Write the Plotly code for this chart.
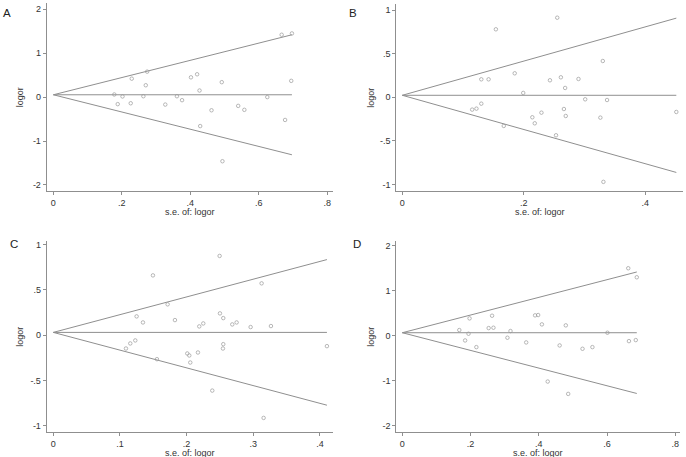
import plotly.graph_objects as go

# ---------------- data ----------------
se_A = [0.178, 0.188, 0.202, 0.226, 0.229, 0.263, 0.270, 0.274, 0.327, 0.361, 0.376, 0.402, 0.420,
        0.427, 0.429, 0.462, 0.492, 0.494, 0.540, 0.558, 0.625, 0.667, 0.677, 0.695, 0.697]
logor_A = [0.06, -0.16, 0.015, -0.14, 0.42, 0.02, 0.27, 0.58, -0.17, 0.02, -0.07, 0.45, 0.52,
           0.15, -0.66, -0.30, 0.34, -1.46, -0.20, -0.29, 0.0, 1.42, -0.52, 0.37, 1.45]

se_B = [0.115, 0.122, 0.130, 0.130, 0.142, 0.154, 0.167, 0.185, 0.199, 0.214, 0.218, 0.229, 0.243,
        0.253, 0.255, 0.261, 0.266, 0.268, 0.269, 0.290, 0.301, 0.326, 0.330, 0.331, 0.337, 0.451]
logor_B = [-0.141, -0.13, 0.206, -0.073, 0.206, 0.779, -0.328, 0.275, 0.05, -0.229, -0.298, -0.176, 0.195,
           -0.435, 0.912, 0.229, -0.134, 0.107, -0.214, 0.21, -0.023, -0.233, 0.416, -0.969, -0.031, -0.168]

se_C = [0.109, 0.1155, 0.123, 0.125, 0.1345, 0.1495, 0.1555, 0.1715, 0.1825, 0.201, 0.204, 0.2055, 0.217,
        0.219, 0.225, 0.2385, 0.2495, 0.25, 0.2545, 0.255, 0.255, 0.2685, 0.275, 0.296, 0.3125, 0.3155,
        0.3265, 0.4105]
logor_C = [-0.148, -0.092, -0.059, 0.207, 0.14, 0.66, -0.266, 0.34, 0.166, -0.203, -0.225, -0.303, -0.192,
           0.096, 0.129, -0.613, 0.875, 0.24, -0.148, -0.1, 0.188, 0.118, 0.14, 0.089, 0.572, -0.915,
           0.1, -0.122]

se_D = [0.167, 0.184, 0.194, 0.197, 0.217, 0.253, 0.263, 0.267, 0.308, 0.317, 0.363, 0.389, 0.398,
        0.409, 0.426, 0.461, 0.479, 0.486, 0.528, 0.557, 0.601, 0.662, 0.664, 0.684, 0.687]
logor_D = [0.126, -0.104, 0.044, 0.385, -0.252, 0.17, 0.444, 0.178, -0.044, 0.104, -0.148, 0.452, 0.459,
           0.252, -1.015, -0.215, 0.23, -1.289, -0.289, -0.252, 0.067, 1.496, -0.119, -0.096, 1.296]

pooled = {"A": 0.053, "B": 0.023, "C": 0.03, "D": 0.067}
z_95 = 1.96

x_title = "s.e. of: logor"
y_title = "logor"

xtick_vals_A = [0, 0.2, 0.4, 0.6, 0.8]
xtick_text_A = ["0", ".2", ".4", ".6", ".8"]
ytick_vals_A = [-2, -1, 0, 1, 2]
ytick_text_A = ["-2", "-1", "0", "1", "2"]

xtick_vals_B = [0, 0.2, 0.4]
xtick_text_B = ["0", ".2", ".4"]
ytick_vals_B = [-1, -0.5, 0, 0.5, 1]
ytick_text_B = ["-1", "-.5", "0", ".5", "1"]

xtick_vals_C = [0, 0.1, 0.2, 0.3, 0.4]
xtick_text_C = ["0", ".1", ".2", ".3", ".4"]
ytick_vals_C = [-1, -0.5, 0, 0.5, 1]
ytick_text_C = ["-1", "-.5", "0", ".5", "1"]

xtick_vals_D = xtick_vals_A
xtick_text_D = xtick_text_A
ytick_vals_D = ytick_vals_A
ytick_text_D = ytick_text_A

# ---------------- layout geometry (pixels) ----------------
W, H = 686, 457
panels = [
    # key, se, logor, idx, x px range, y px (top,bottom), x range, y range, ticks, letter pos, xtitle y, ytitle x
    ("A", se_A, logor_A, 1, (46.7, 333), (3.3, 191.3), (-0.0195, 0.817), (-2.145, 2.136),
     xtick_vals_A, xtick_text_A, ytick_vals_A, ytick_text_A, (1, 13), 212, 20),
    ("B", se_B, logor_B, 2, (396.3, 683), (4, 191.3), (-0.0099, 0.462), (-1.077, 1.069),
     xtick_vals_B, xtick_text_B, ytick_vals_B, ytick_text_B, (347, 13), 212, 371),
    ("C", se_C, logor_C, 3, (46.7, 333), (241, 432.3), (-0.0099, 0.4196), (-1.074, 1.04),
     xtick_vals_C, xtick_text_C, ytick_vals_C, ytick_text_C, (8, 244), 452.5, 20),
    ("D", se_D, logor_D, 4, (396.3, 680), (241, 432.3), (-0.0176, 0.8136), (-2.14, 2.1),
     xtick_vals_D, xtick_text_D, ytick_vals_D, ytick_text_D, (351, 244), 452.5, 371),
]

line_col = "#8f8f8f"
marker_col = "#9a9a9a"
axis_col = "#8f8f8f"
text_col = "#333333"
font_family = "Liberation Sans Narrow, Liberation Sans, Arial, sans-serif"
letter_font = "Liberation Sans, Arial, sans-serif"

fig = go.Figure()
layout = dict(
    width=W, height=H,
    margin=dict(l=0, r=0, t=0, b=0, autoexpand=False),
    paper_bgcolor="white", plot_bgcolor="white",
    showlegend=False,
    font=dict(family=font_family, size=9, color=text_col),
    annotations=[],
)

for (key, se, lo, i, xpx, ypx, xr, yr, xtv, xtt, ytv, ytt, lab, xty, ytx) in panels:
    xa = "x" if i == 1 else f"x{i}"
    ya = "y" if i == 1 else f"y{i}"
    theta = pooled[key]
    se_max = max(se)
    for sign in (1, -1, 0):
        fig.add_trace(go.Scatter(x=[0, se_max], y=[theta, theta + sign * z_95 * se_max], mode="lines",
                                 line=dict(color=line_col, width=1), xaxis=xa, yaxis=ya,
                                 hoverinfo="skip"))
    fig.add_trace(go.Scatter(x=se, y=lo, mode="markers",
                             marker=dict(symbol="circle-open", size=3.5, color=marker_col,
                                         line=dict(width=0.7, color=marker_col)),
                             xaxis=xa, yaxis=ya))

    xname = "xaxis" if i == 1 else f"xaxis{i}"
    yname = "yaxis" if i == 1 else f"yaxis{i}"
    layout[xname] = dict(
        domain=[xpx[0] / W, xpx[1] / W], range=list(xr), anchor=ya,
        showline=True, linecolor=axis_col, linewidth=1, showgrid=False, zeroline=False,
        ticks="outside", ticklen=2.5, tickcolor=axis_col, tickwidth=1,
        tickvals=xtv, ticktext=xtt, tickfont=dict(size=9, color=text_col),
    )
    layout[yname] = dict(
        domain=[1 - ypx[1] / H, 1 - ypx[0] / H], range=list(yr), anchor=xa,
        showline=True, linecolor=axis_col, linewidth=1, showgrid=False, zeroline=False,
        ticks="outside", ticklen=3, tickcolor=axis_col, tickwidth=1,
        tickvals=ytv, ticktext=ytt, tickfont=dict(size=9, color=text_col),
    )
    layout["annotations"].append(dict(
        text=key, x=lab[0] / W, y=1 - lab[1] / H, xref="paper", yref="paper",
        xanchor="left", yanchor="middle", showarrow=False,
        font=dict(size=11.5, color="#222222", family=letter_font)))
    layout["annotations"].append(dict(
        text=x_title, x=(xpx[0] + xpx[1]) / 2 / W, y=1 - xty / H, xref="paper", yref="paper",
        xanchor="center", yanchor="middle", showarrow=False,
        font=dict(size=9, color=text_col, family=font_family)))
    layout["annotations"].append(dict(
        text=y_title, x=ytx / W, y=1 - (ypx[0] + ypx[1]) / 2 / H, xref="paper", yref="paper",
        xanchor="center", yanchor="middle", showarrow=False, textangle=-90,
        font=dict(size=9, color=text_col, family=font_family)))

fig.update_layout(**layout)
fig.write_html("out.html", config={"displayModeBar": False},
               post_script="document.body.style.margin='0';document.body.style.padding='0';")
